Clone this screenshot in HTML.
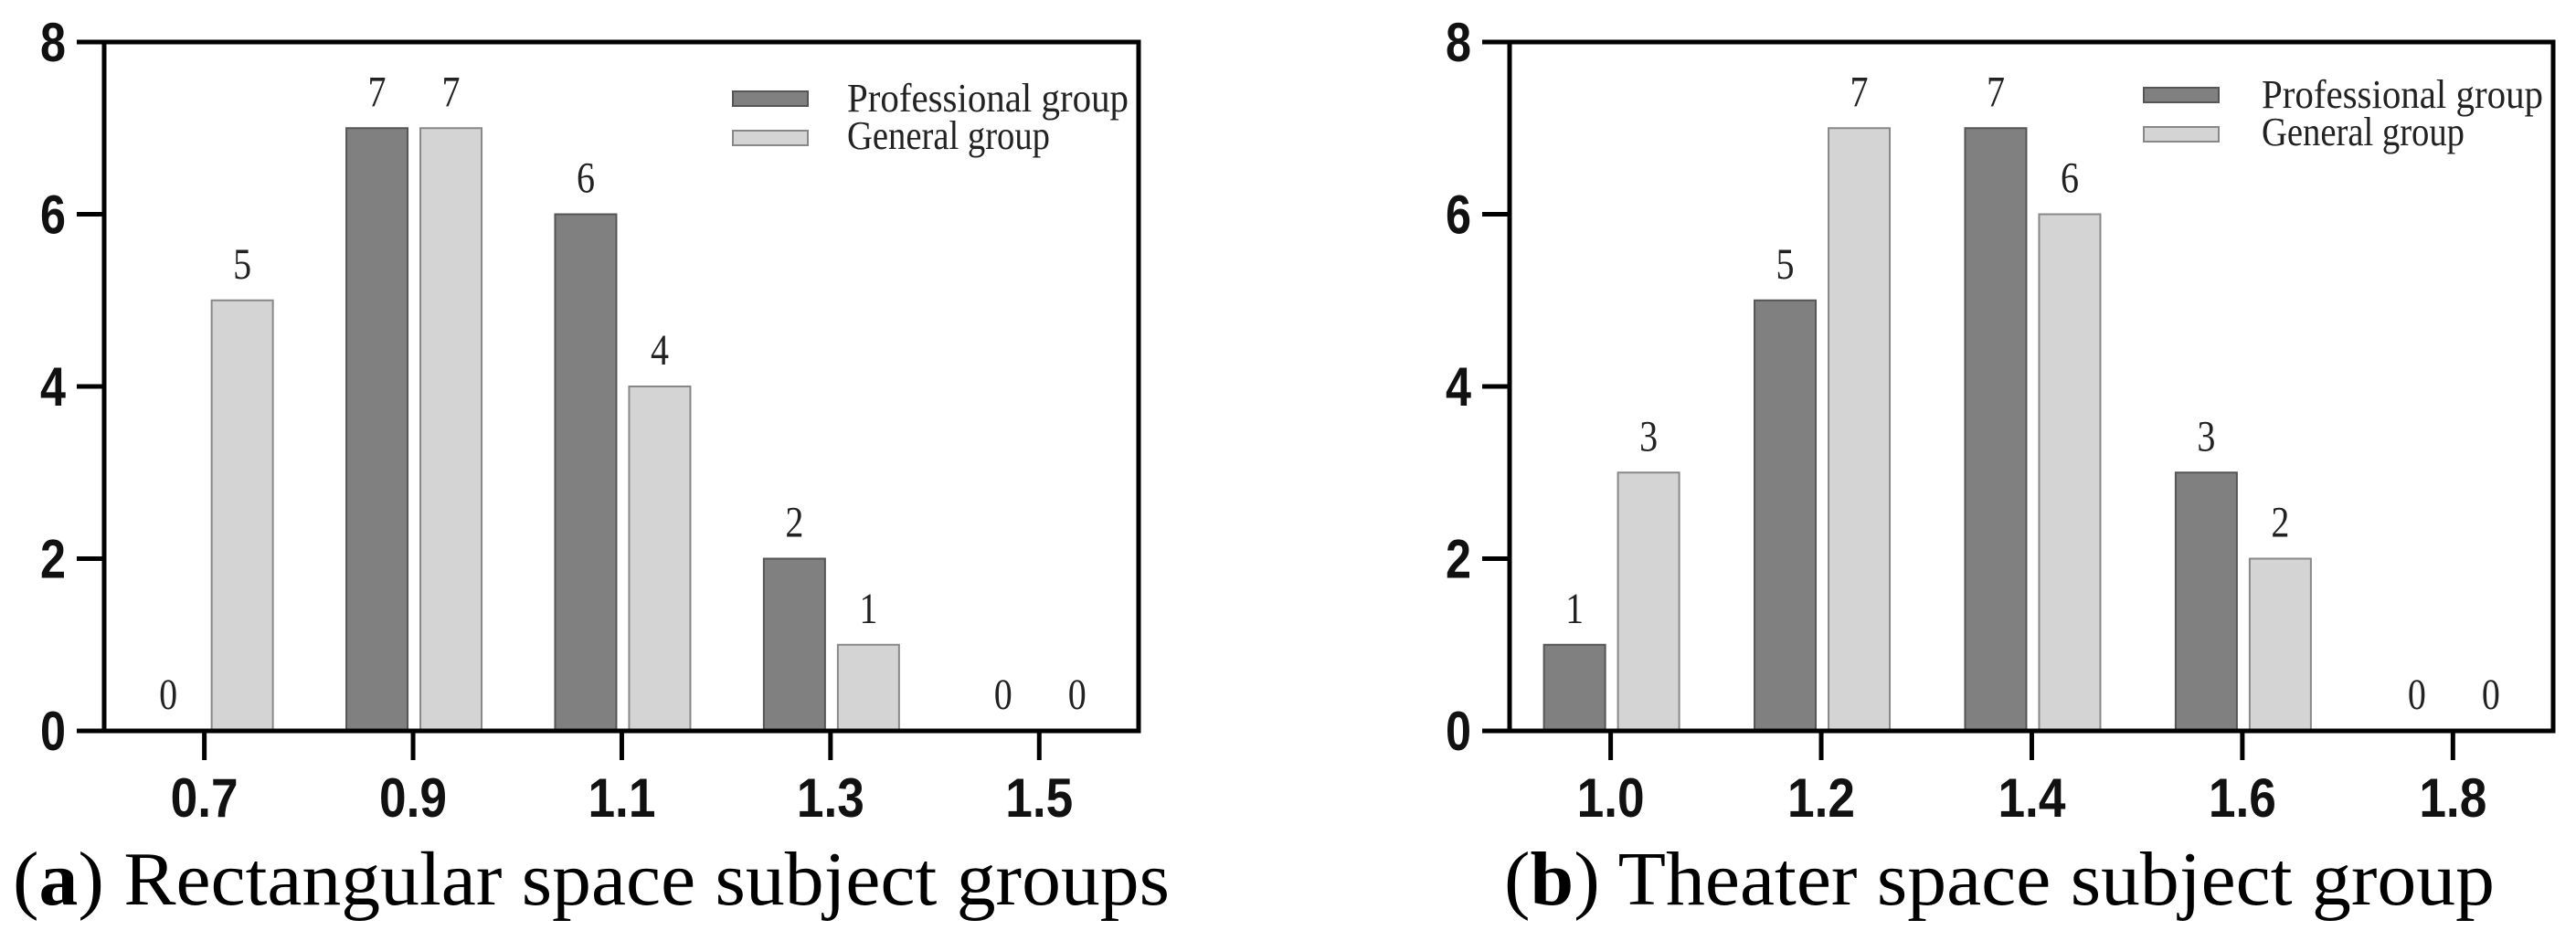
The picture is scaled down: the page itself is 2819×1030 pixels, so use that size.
<!DOCTYPE html>
<html><head><meta charset="utf-8">
<style>
html,body{margin:0;padding:0;background:#fff;}
svg{display:block;}
.tick{font-family:"Liberation Sans Narrow","Liberation Sans",sans-serif;font-weight:bold;font-size:60px;fill:#111;}
.val{font-family:"Liberation Serif",serif;font-size:48px;fill:#222;}
.leg{font-family:"Liberation Serif",serif;font-size:44px;fill:#222;}
.cap{font-family:"Liberation Serif",serif;font-size:84px;fill:#000;}
</style></head>
<body>
<svg id="chart" width="2819" height="1030" viewBox="0 0 2819 1030" xmlns="http://www.w3.org/2000/svg"></svg>
<script>
const categoriesA = ["0.7","0.9","1.1","1.3","1.5"];
const professionalA = [0,7,6,2,0];
const generalA = [5,7,4,1,0];
const categoriesB = ["1.0","1.2","1.4","1.6","1.8"];
const professionalB = [1,5,7,3,0];
const generalB = [3,7,6,2,0];
const yTicks = [0,2,4,6,8];

const NS = "http://www.w3.org/2000/svg";
const svg = document.getElementById("chart");
function mk(tag, attrs, parent, text){
  const e = document.createElementNS(NS, tag);
  for (const k in attrs) e.setAttribute(k, attrs[k]);
  if (text !== undefined) e.textContent = text;
  (parent || svg).appendChild(e);
  return e;
}

function drawPanel(p){
  const g = mk("g", {});
  
  
  const yTop = 46, yZero = 800, yMax = 8;
  const yScale = v => yZero - (v / yMax) * (yZero - yTop);
  const spacing = (p.right - p.left) / 4.956;
  const xScale = i => p.left + 0.48 * spacing + i * spacing;

  p.cats.forEach((c, i) => {
    const tx = xScale(i);
    const bw = 67;
    [[p.pro, tx - 73, "#808080", "#555", "professional"], [p.gen, tx + 8, "#d4d4d4", "#888", "general"]].forEach(s => {
      const v = s[0][i];
      const y = yScale(v);
      if (v > 0) {
        const r = mk("rect", {x: s[1], y: y, width: bw, height: yZero - y, fill: s[2], stroke: s[3], "stroke-width": 2}, g);
        
        
      }
      const t = mk("text", {x: s[1] + bw / 2, y: y - 24, "text-anchor": "middle", "class": "val", textLength: 20, lengthAdjust: "spacingAndGlyphs"}, g, String(v));
      
      
    });
    const tk = mk("line", {x1: tx, x2: tx, y1: yZero, y2: yZero + 32, stroke: "#000", "stroke-width": 5}, g);
    
    
    const tl = mk("text", {x: tx, y: 894, "text-anchor": "middle", "class": "tick", textLength: 74, lengthAdjust: "spacingAndGlyphs"}, g, c);
    
    
  });

  yTicks.forEach(v => {
    const y = yScale(v);
    const l = mk("line", {x1: p.left - 30, x2: p.left, y1: y, y2: y, stroke: "#000", "stroke-width": 5}, g);
    
    
    const t = mk("text", {x: p.left - 42, y: y + 21, "text-anchor": "end", "class": "tick", textLength: 28, lengthAdjust: "spacingAndGlyphs"}, g, String(v));
    
    
  });

  const fr = mk("rect", {x: p.left, y: yTop, width: p.right - p.left, height: yZero - yTop, fill: "none", stroke: "#000", "stroke-width": 5}, g);
  
  

  const lg = mk("g", {}, g);
  
  
  const e1 = mk("rect", {x: p.legX, y: p.legY, width: 82, height: 16, fill: "#808080", stroke: "#555", "stroke-width": 2}, lg);
  
  
  const e2 = mk("rect", {x: p.legX, y: p.legY + 43, width: 82, height: 16, fill: "#d4d4d4", stroke: "#888", "stroke-width": 2}, lg);
  
  
  const t1 = mk("text", {x: p.legTextX, y: p.legY + 22, "class": "leg", textLength: 308, lengthAdjust: "spacingAndGlyphs"}, lg, "Professional group");
  
  
  const t2 = mk("text", {x: p.legTextX, y: p.legY + 63, "class": "leg", textLength: 222, lengthAdjust: "spacingAndGlyphs"}, lg, "General group");
  
  

  const cap = mk("text", {x: p.capX, y: 990, "class": "cap", textLength: p.capW, lengthAdjust: "spacingAndGlyphs"}, g);
  
  
  mk("tspan", {}, cap, "(");
  mk("tspan", {"font-weight": "bold"}, cap, p.letter);
  mk("tspan", {}, cap, ") " + p.caption);
}

drawPanel({id: "panel-a", cats: categoriesA, pro: professionalA, gen: generalA, left: 114, right: 1246,
  legX: 802, legY: 100, legTextX: 927, capX: 14, capW: 1266, letter: "a", caption: "Rectangular space subject groups"});
drawPanel({id: "panel-b", cats: categoriesB, pro: professionalB, gen: generalB, left: 1652, right: 2794,
  legX: 2346, legY: 96, legTextX: 2475, capX: 1646, capW: 1084, letter: "b", caption: "Theater space subject group"});
</script>
</body></html>
